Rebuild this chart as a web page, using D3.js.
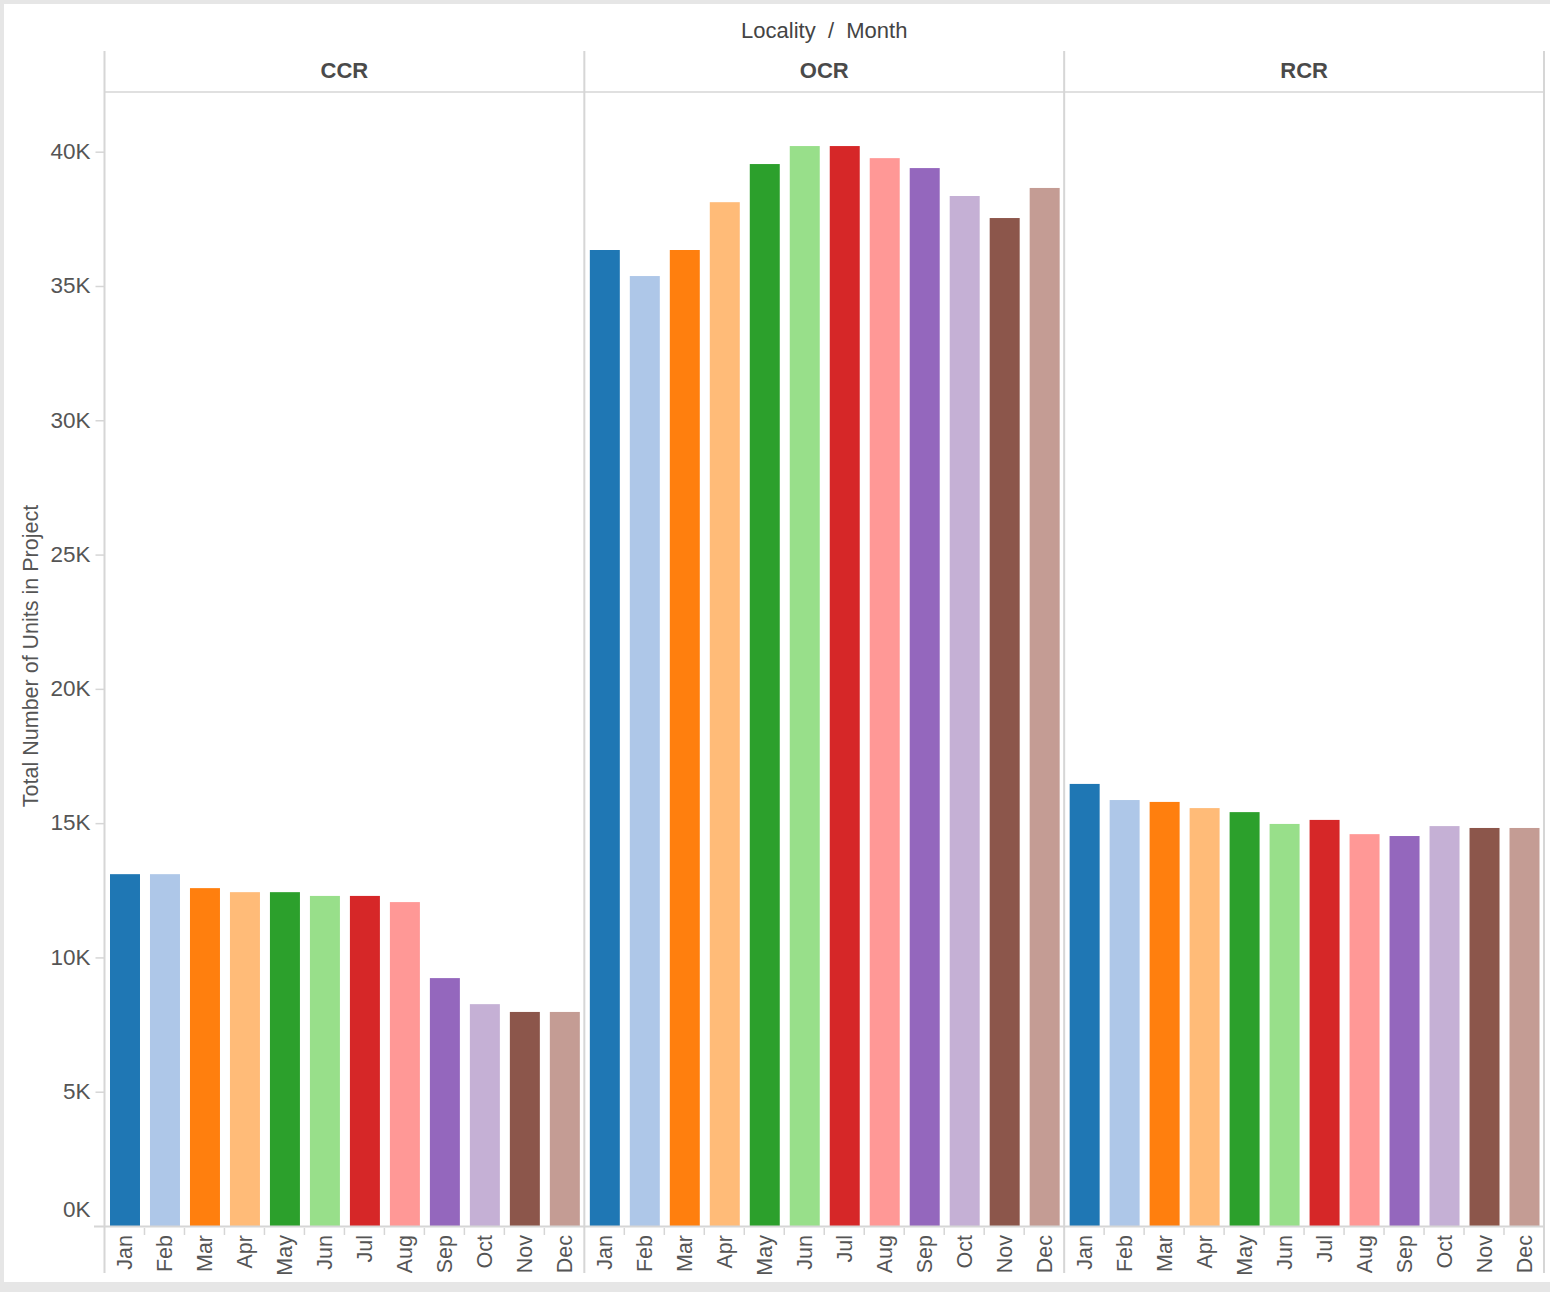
<!DOCTYPE html>
<html>
<head>
<meta charset="utf-8">
<script src="https://cdn.jsdelivr.net/npm/d3@7"></script>
<style>
  html, body { margin: 0; padding: 0; background: #e6e6e6; }
  svg { display: block; font-family: "Liberation Sans", Arial, Helvetica, sans-serif; }
</style>
</head>
<body>
<svg id="chart" width="1550" height="1292"></svg>
<script>
// ---- data ----
const localities = ["CCR", "OCR", "RCR"];
const months = ["Jan","Feb","Mar","Apr","May","Jun","Jul","Aug","Sep","Oct","Nov","Dec"];
const ccrUnits = [13100, 13100, 12580, 12430, 12430, 12290, 12290, 12060, 9230, 8260, 7970, 7970];
const ocrUnits = [36340, 35370, 36340, 38120, 39540, 40210, 40210, 39760, 39390, 38350, 37530, 38650];
const rcrUnits = [16460, 15860, 15790, 15560, 15410, 14970, 15120, 14590, 14520, 14890, 14820, 14820];
const yTicks = [0, 5000, 10000, 15000, 20000, 25000, 30000, 35000, 40000];
const monthColors = ["#1f77b4","#aec7e8","#ff7f0e","#ffbb78","#2ca02c","#98df8a",
                     "#d62728","#ff9896","#9467bd","#c5b0d5","#8c564b","#c49c94"];
const titleText = "Locality  /  Month";
const yTitle = "Total Number of Units in Project";

const seriesByLocality = { CCR: ccrUnits, OCR: ocrUnits, RCR: rcrUnits };

// ---- layout ----
const svg = d3.select("#chart");
const W = 1550, H = 1292;
const left = 104.5, right = 1544;
const headTop = 51, headBottom = 92;
const plotBottom = 1226, sepBottom = 1273;
const lineColor = "#d6d6d6";
const textColor = "#555555";

svg.append("rect").attr("x", 4).attr("y", 4).attr("width", W - 4).attr("height", 1278).attr("fill", "#ffffff");

const xPanel = d3.scaleBand().domain(localities).range([left, right]).padding(0);
const xMonth = d3.scaleBand().domain(months).range([0, xPanel.bandwidth()])
  .paddingInner(0.25).paddingOuter(0.125);
const y = d3.scaleLinear().domain([0, 40000]).range([plotBottom, 151.7]);
const color = d3.scaleOrdinal().domain(months).range(monthColors);

// title
svg.append("text")
  .attr("x", (left + right) / 2).attr("y", 30)
  .attr("text-anchor", "middle").attr("dominant-baseline", "central")
  .attr("font-size", 22).attr("fill", "#444")
  .style("white-space", "pre")
  .text(titleText);

// header horizontal line
svg.append("line").attr("x1", left).attr("x2", right).attr("y1", headBottom).attr("y2", headBottom)
  .attr("stroke", lineColor).attr("stroke-width", 1.5);

// panels
localities.forEach(loc => {
  const px = xPanel(loc);
  const g = svg.append("g").attr("transform", `translate(${px},0)`);
  g.append("text")
    .attr("x", xPanel.bandwidth() / 2).attr("y", 70)
    .attr("text-anchor", "middle").attr("dominant-baseline", "central")
    .attr("font-size", 22).attr("font-weight", "bold").attr("fill", "#4a4a4a")
    .text(loc);
  const vals = seriesByLocality[loc];
  g.selectAll("rect.bar").data(months.map((m, i) => ({ m, v: vals[i] })))
    .join("rect").attr("class", "bar")
    .attr("x", d => xMonth(d.m) + 0.5)
    .attr("width", xMonth.bandwidth())
    .attr("y", d => y(d.v))
    .attr("height", d => plotBottom - y(d.v))
    .attr("fill", d => color(d.m));
  const step = xMonth.step();
  g.selectAll("line.mt").data(months.slice(1))
    .join("line").attr("class", "mt")
    .attr("x1", d => xMonth(d) - step * 0.125)
    .attr("x2", d => xMonth(d) - step * 0.125)
    .attr("y1", plotBottom + 2).attr("y2", plotBottom + 9)
    .attr("stroke", lineColor).attr("stroke-width", 1.5);
  g.selectAll("text.ml").data(months)
    .join("text").attr("class", "ml")
    .attr("transform", d => `translate(${xMonth(d) + xMonth.bandwidth() / 2 + 0.5},${plotBottom + 9}) rotate(-90)`)
    .attr("text-anchor", "end").attr("dominant-baseline", "central")
    .attr("font-size", 21.5).attr("fill", textColor)
    .text(d => d);
});

// vertical separators
const sepXs = localities.map(l => xPanel(l)).concat([right]);
svg.selectAll("line.sep").data(sepXs).join("line").attr("class", "sep")
  .attr("x1", d => d).attr("x2", d => d)
  .attr("y1", headTop).attr("y2", sepBottom)
  .attr("stroke", lineColor).attr("stroke-width", 2);

// baseline
svg.append("line").attr("x1", 94).attr("x2", right).attr("y1", plotBottom + 0.5).attr("y2", plotBottom + 0.5)
  .attr("stroke", lineColor).attr("stroke-width", 2);

// y axis
const yAxis = d3.axisLeft(y).tickValues(yTicks).tickSize(9).tickPadding(5)
  .tickFormat(d => (d / 1000) + "K");
const ya = svg.append("g").attr("transform", `translate(${left},0)`).call(yAxis);
ya.select(".domain").remove();
ya.selectAll(".tick line").attr("stroke", lineColor).attr("stroke-width", 1.5);
ya.selectAll(".tick text")
  .attr("font-size", 22.5).attr("fill", textColor)
  .attr("font-family", "Liberation Sans, Arial, sans-serif")
  .attr("dy", "0.3em");
ya.selectAll(".tick").filter(d => d === 0).select("line").remove();
ya.selectAll(".tick").filter(d => d === 0).select("text").attr("y", -16);

// y title
svg.append("text")
  .attr("transform", `translate(31,656) rotate(-90)`)
  .attr("text-anchor", "middle").attr("dominant-baseline", "central")
  .attr("font-size", 21.5).attr("fill", textColor)
  .text(yTitle);
</script>
</body>
</html>
